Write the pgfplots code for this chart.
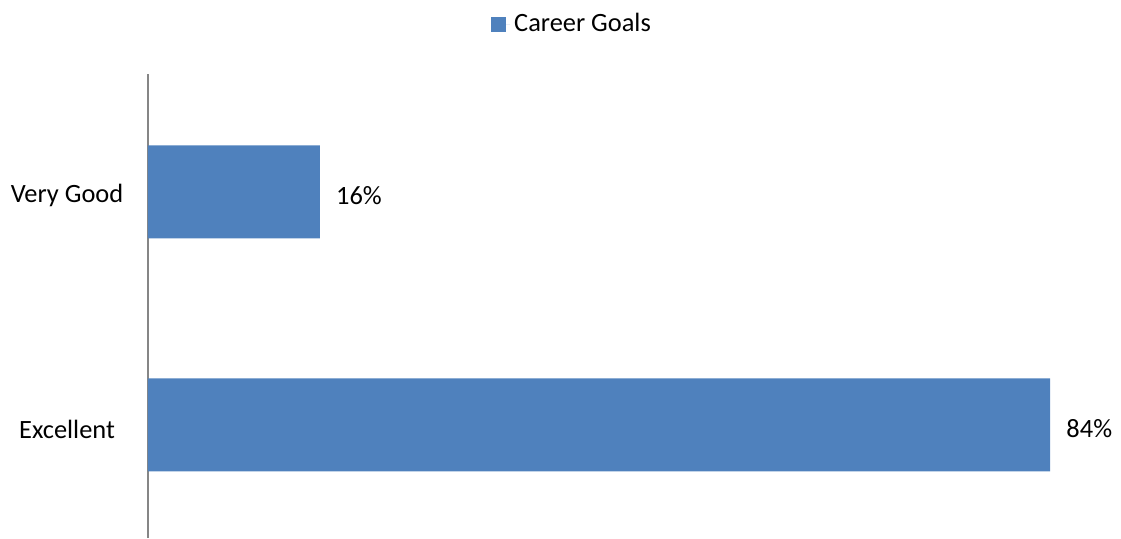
\documentclass[border=0pt]{standalone}
\usepackage{fontspec}
\setmainfont{Carlito}
\usepackage{pgfplots}
\pgfplotsset{compat=1.18}
\definecolor{barblue}{HTML}{4F81BD}
\definecolor{axgray}{HTML}{868686}
\begin{document}
\fontsize{13}{15.6}\selectfont
\begin{tikzpicture}
\path[use as bounding box] (0,0) rectangle (560.5pt,269pt);
\begin{axis}[
  at={(74pt,0pt)}, anchor=south west,
  scale only axis, width=481pt, height=232pt,
  xbar, bar width=46.5pt,
  xmin=0, xmax=89.58, ymin=-0.485, ymax=1.506,
  hide x axis,
  axis y line*=left,
  y axis line style={draw=axgray, line width=1pt, -},
  ytick={0,1}, yticklabels={Excellent,Very Good},
  major tick length=0pt, ytick style={draw=none},
  yticklabel style={anchor=center, xshift=-40.5pt, yshift=-2pt, font=\fontsize{13.2}{15.8}\selectfont},
  point meta=x,
  nodes near coords={\pgfmathprintnumber[assume math mode=true]{\pgfplotspointmeta}\%},
  every node near coord/.append style={anchor=west, xshift=8pt, yshift=-2pt, inner sep=0pt, font=\fontsize{13.2}{15.8}\selectfont, text=black},
  legend style={at={(0.4418,1)}, anchor=center, yshift=25pt, draw=none, fill=none,
    font=\fontsize{13.2}{15.8}\selectfont},
  legend image code/.code={\fill[barblue] (0pt,-3.75pt) rectangle (7.5pt,3.75pt); \path (7.5pt,0pt) -- (9.5pt,0pt);},
  clip=false,
]
\addplot[fill=barblue, draw=none] coordinates {(84,0) (16,1)};
\addlegendentry{Career Goals}
\end{axis}
\end{tikzpicture}
\end{document}
